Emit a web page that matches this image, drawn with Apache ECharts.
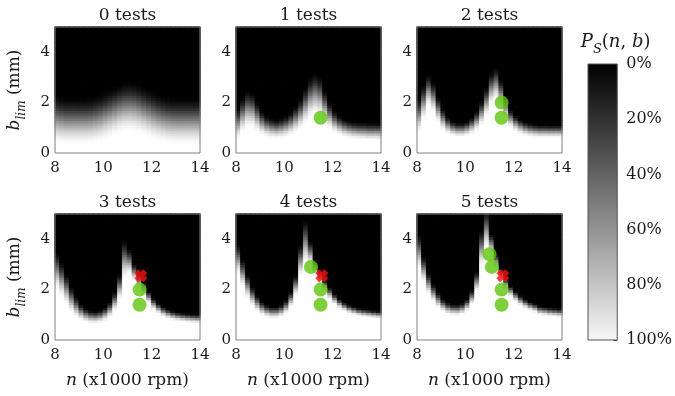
<!DOCTYPE html>
<html>
<head>
<meta charset="utf-8">
<script src="https://cdn.jsdelivr.net/npm/echarts@6/dist/echarts.min.js"></script>
<style>
  html, body { margin: 0; padding: 0; background: #fff; }
  #chart { width: 675px; height: 396px; }
</style>
</head>
<body>
<div id="chart"></div>
<script>
// spindle speed (x1000 rpm), centre of each heatmap column
const nCenters = [8.1, 8.3, 8.5, 8.7, 8.9, 9.1, 9.3, 9.5, 9.7, 9.9, 10.1, 10.3, 10.5, 10.7, 10.9,
  11.1, 11.3, 11.5, 11.7, 11.9, 12.1, 12.3, 12.5, 12.7, 12.9, 13.1, 13.3, 13.5, 13.7, 13.9]
// depth (mm), centre of each heatmap row
const bCenters = []
for (let j = 0; j < 50; j++) bCenters.push(+(0.05 + j * 0.1).toFixed(2))

// per column, depth below which it is white (~100%) and above which black (~0%)
const p0White = [0.35, 0.32, 0.3, 0.3, 0.3, 0.3, 0.3, 0.32, 0.35, 0.4, 0.48, 0.56, 0.65, 0.74, 0.8, 0.82, 0.8, 0.74, 0.66, 0.58, 0.5, 0.43, 0.38, 0.34, 0.32, 0.3, 0.3, 0.3, 0.3, 0.3]
const p0Black = [2.4, 2.35, 2.3, 2.3, 2.3, 2.3, 2.3, 2.32, 2.38, 2.45, 2.55, 2.65, 2.75, 2.85, 2.92, 2.95, 2.92, 2.85, 2.75, 2.65, 2.55, 2.45, 2.38, 2.33, 2.3, 2.3, 2.3, 2.3, 2.3, 2.3]
const p1White = [0.55, 0.8, 1.0, 1.0, 0.85, 0.7, 0.62, 0.58, 0.56, 0.58, 0.62, 0.7, 0.8, 0.95, 1.15, 1.4, 1.5, 1.45, 1.2, 0.95, 0.8, 0.7, 0.62, 0.58, 0.55, 0.53, 0.52, 0.5, 0.5, 0.5]
const p1Black = [1.9, 2.3, 2.6, 2.5, 2.1, 1.75, 1.55, 1.45, 1.4, 1.45, 1.55, 1.7, 1.95, 2.25, 2.7, 3.1, 3.3, 3.15, 2.6, 2.1, 1.75, 1.55, 1.42, 1.35, 1.3, 1.28, 1.27, 1.25, 1.25, 1.25]
const p2White = [0.8, 1.3, 1.85, 1.6, 1.2, 0.9, 0.75, 0.68, 0.64, 0.64, 0.68, 0.75, 0.88, 1.1, 1.45, 1.9, 2.1, 1.8, 1.35, 1.0, 0.85, 0.75, 0.68, 0.64, 0.62, 0.6, 0.6, 0.6, 0.6, 0.6]
const p2Black = [2.3, 2.8, 3.2, 2.9, 2.3, 1.85, 1.5, 1.32, 1.25, 1.25, 1.32, 1.48, 1.75, 2.15, 2.7, 3.3, 3.5, 3.0, 2.3, 1.8, 1.55, 1.4, 1.3, 1.24, 1.2, 1.18, 1.18, 1.17, 1.17, 1.17]
const p3White = [2.0, 1.7, 1.4, 1.1, 0.9, 0.78, 0.7, 0.66, 0.65, 0.68, 0.76, 0.9, 1.15, 1.6, 2.4, 2.6, 2.35, 2.05, 1.75, 1.45, 1.2, 1.05, 0.93, 0.85, 0.8, 0.76, 0.73, 0.7, 0.68, 0.67]
const p3Black = [3.6, 3.2, 2.7, 2.2, 1.8, 1.5, 1.32, 1.22, 1.2, 1.24, 1.36, 1.58, 1.98, 2.7, 4.1, 3.7, 3.1, 2.7, 2.35, 2.0, 1.72, 1.52, 1.38, 1.28, 1.2, 1.15, 1.12, 1.1, 1.08, 1.07]
const p4White = [2.6, 2.1, 1.65, 1.35, 1.12, 0.98, 0.9, 0.86, 0.86, 0.92, 1.05, 1.3, 1.75, 2.5, 3.0, 3.0, 2.55, 2.2, 1.9, 1.62, 1.42, 1.26, 1.15, 1.06, 1.0, 0.95, 0.92, 0.9, 0.88, 0.86]
const p4Black = [3.9, 3.3, 2.7, 2.2, 1.85, 1.6, 1.45, 1.38, 1.38, 1.46, 1.65, 2.0, 2.65, 3.9, 4.9, 4.0, 3.25, 2.8, 2.45, 2.15, 1.9, 1.7, 1.56, 1.45, 1.38, 1.32, 1.28, 1.25, 1.22, 1.2]
const p5White = [2.8, 2.3, 1.8, 1.5, 1.28, 1.12, 1.02, 0.98, 0.97, 1.02, 1.15, 1.4, 1.9, 2.9, 3.6, 3.4, 2.85, 2.35, 2.0, 1.72, 1.52, 1.37, 1.26, 1.17, 1.1, 1.0, 0.97, 0.94, 0.92, 0.9]
const p5Black = [4.3, 3.4, 2.75, 2.3, 1.95, 1.7, 1.55, 1.48, 1.47, 1.53, 1.7, 2.05, 2.8, 4.5, 5.3, 4.3, 3.5, 2.9, 2.52, 2.22, 2.0, 1.82, 1.68, 1.57, 1.5, 1.4, 1.37, 1.34, 1.32, 1.3]

const whites = [p0White, p1White, p2White, p3White, p4White, p5White]
const blacks = [p0Black, p1Black, p2Black, p3Black, p4Black, p5Black]
const titles = ['0 tests', '1 tests', '2 tests', '3 tests', '4 tests', '5 tests']

// cutting tests in order: n, b, stable?
const testN = [11.5, 11.5, 11.55, 11.1, 11.0]
const testB = [1.4, 2.0, 2.55, 2.9, 3.4]
const testStable = [true, true, false, true, true]

const cbMax = 100

const FONT = "'DejaVu Serif', serif"
const TXT = '#1a1a1a'

function grey (v) {
  let g = Math.round(v * 2.55)
  return 'rgb(' + g + ',' + g + ',' + g + ')'
}

function surface (white, black) {
  let out = []
  nCenters.forEach((n, i) => {
    bCenters.forEach((b, j) => {
      let t = (b - white[i]) / (black[i] - white[i])
      t = Math.min(1, Math.max(0, t))
      let s = t * t * (3 - 2 * t)
      let v = Math.round((1 - s) * 1000) / 10
      // border in the cell's own grey hides the anti-aliasing seams
      out.push({ value: [i, j, v], itemStyle: { borderColor: grey(v), borderWidth: 0.8 } })
    })
  })
  return out
}

const colLeft = [55, 236, 417]
const rowTop = [27, 214]

let grid = [], xAxis = [], yAxis = [], series = [], heatIdx = []

const nameRich = {
  i: { fontFamily: FONT, fontStyle: 'italic', fontSize: 17, color: TXT, lineHeight: 26, verticalAlign: 'middle' },
  t: { fontFamily: FONT, fontSize: 17, color: TXT, lineHeight: 26, verticalAlign: 'middle' },
  s: { fontFamily: FONT, fontStyle: 'italic', fontSize: 12, color: TXT, lineHeight: 26, verticalAlign: 'bottom' }
}

for (let p = 0; p < 6; p++) {
  let row = Math.floor(p / 3), col = p % 3
  grid.push({
    left: colLeft[col], top: rowTop[row], width: 145, height: 126,
    show: true, borderColor: '#808080', borderWidth: 1, backgroundColor: 'transparent', z: 10
  })
  // hidden category axes that hold the heatmap cells (top one carries the title)
  xAxis.push({
    type: 'category', gridIndex: p, position: 'top', data: nCenters,
    axisLine: { show: false }, axisTick: { show: false }, axisLabel: { show: false }, splitLine: { show: false },
    name: titles[p], nameLocation: 'middle', nameGap: 3,
    nameTextStyle: { fontFamily: FONT, fontSize: 17, color: TXT }
  })
  xAxis.push({
    type: 'value', gridIndex: p, position: 'bottom', min: 8, max: 14, interval: 2,
    axisLine: { show: false }, axisTick: { show: false }, splitLine: { show: false },
    axisLabel: { margin: 8, fontFamily: FONT, fontSize: 15, color: TXT },
    name: row === 1 ? '{i|n}{t| (x1000 rpm)}' : '', nameLocation: 'middle', nameGap: 28,
    nameTextStyle: { rich: nameRich }
  })
  yAxis.push({
    type: 'category', gridIndex: p, position: 'right', data: bCenters, show: false
  })
  yAxis.push({
    type: 'value', gridIndex: p, position: 'left', min: 0, max: 5, interval: 2,
    axisLine: { show: false }, axisTick: { show: false }, splitLine: { show: false },
    axisLabel: { margin: 5, fontFamily: FONT, fontSize: 15, color: TXT, formatter: v => (v % 2 === 0 ? v : '') },
    name: col === 0 ? '{i|b}{s|lim}{t| (mm)}' : '', nameLocation: 'middle', nameGap: 27, nameRotate: 90,
    nameTextStyle: { rich: nameRich }
  })

  heatIdx.push(series.length)
  series.push({
    type: 'heatmap', xAxisIndex: 2 * p, yAxisIndex: 2 * p,
    data: surface(whites[p], blacks[p]), progressive: 0, silent: true
  })

  let green = [], red = []
  for (let k = 0; k < p; k++) {
    if (testStable[k]) green.push([testN[k], testB[k]])
    else red.push([testN[k], testB[k]])
  }
  series.push({
    type: 'scatter', xAxisIndex: 2 * p + 1, yAxisIndex: 2 * p + 1, data: green,
    symbol: 'circle', symbolSize: 14, itemStyle: { color: '#5ec40c' }, z: 5, silent: true
  })
  series.push({
    type: 'scatter', xAxisIndex: 2 * p + 1, yAxisIndex: 2 * p + 1, data: red,
    symbol: 'path://M3,0L5,2L7,0L10,3L8,5L10,7L7,10L5,8L3,10L0,7L2,5L0,3Z',
    symbolSize: 13, itemStyle: { color: '#ff1010' }, z: 6, silent: true
  })
}

// colour bar
grid.push({ left: 588, top: 64, width: 30, height: 276, show: true, borderColor: '#555', borderWidth: 1, backgroundColor: 'transparent', z: 10 })
xAxis.push({
  type: 'category', gridIndex: 6, position: 'top', data: ['P'],
  axisLine: { show: false }, axisTick: { show: false }, axisLabel: { show: false },
  name: '{i|P}{s|S}{t|(}{i|n}{t|, }{i|b}{t|)}', nameLocation: 'middle', nameGap: 8,
  nameTextStyle: {
    padding: [0, 0, 0, 26],
    rich: {
      i: { fontFamily: FONT, fontStyle: 'italic', fontSize: 18, color: TXT, lineHeight: 28, verticalAlign: 'middle' },
      t: { fontFamily: FONT, fontSize: 18, color: TXT, lineHeight: 28, verticalAlign: 'middle' },
      s: { fontFamily: FONT, fontStyle: 'italic', fontSize: 13, color: TXT, lineHeight: 28, verticalAlign: 'bottom' }
    }
  }
})
yAxis.push({
  type: 'value', gridIndex: 6, position: 'right', min: 0, max: cbMax, interval: 20, inverse: true,
  axisLine: { show: false }, splitLine: { show: false },
  axisTick: { show: true, inside: true, length: 4, lineStyle: { color: '#444' } },
  axisLabel: { margin: 9, fontFamily: FONT, fontSize: 16, color: TXT, formatter: '{value}%' }
})
series.push({
  type: 'bar', xAxisIndex: 12, yAxisIndex: 12, data: [cbMax], barWidth: '100%', silent: true,
  itemStyle: {
    color: {
      type: 'linear', x: 0, y: 0, x2: 0, y2: 1,
      colorStops: [{ offset: 0, color: '#000000' }, { offset: 1, color: '#f6f6f6' }]
    }
  }
})

let chart = echarts.init(document.getElementById('chart'))
chart.setOption({
  animation: false,
  backgroundColor: '#ffffff',
  grid: grid,
  xAxis: xAxis,
  yAxis: yAxis,
  visualMap: {
    type: 'continuous', show: false, min: 0, max: 100, seriesIndex: heatIdx,
    inRange: { color: ['#000000', '#ffffff'] }
  },
  series: series
})
</script>
</body>
</html>
